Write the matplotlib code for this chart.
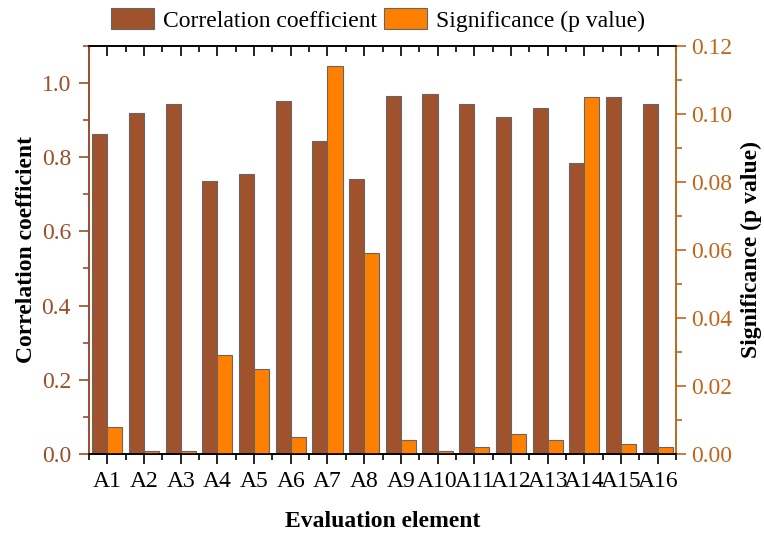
import matplotlib
matplotlib.use("Agg")
import matplotlib.pyplot as plt
import numpy as np
from matplotlib.ticker import MultipleLocator, FixedLocator, FormatStrFormatter

plt.rcParams['font.family'] = ['Liberation Serif', 'DejaVu Serif']

categories = ['A1', 'A2', 'A3', 'A4', 'A5', 'A6', 'A7', 'A8',
              'A9', 'A10', 'A11', 'A12', 'A13', 'A14', 'A15', 'A16']
correlation = [0.862, 0.919, 0.943, 0.736, 0.755, 0.950, 0.844, 0.740,
               0.965, 0.971, 0.944, 0.907, 0.932, 0.784, 0.963, 0.943]
p_values = [0.0079, 0.001, 0.001, 0.029, 0.0249, 0.0049, 0.114, 0.059,
            0.0041, 0.001, 0.002, 0.0059, 0.0041, 0.105, 0.0029, 0.002]

brown = '#A0522D'
orange = '#FF8000'
left_col = '#9A4E2C'
right_col = '#C0661C'
edge = '#666666'

fig = plt.figure(figsize=(7.64, 5.36), dpi=100)
ax = fig.add_axes([89/764, 1-454/536, (676-89)/764, (454-45.7)/536])
ax2 = ax.twinx()

x = np.arange(len(categories))
w = 0.41
b1 = ax.bar(x - w/2, correlation, width=w, color=brown, edgecolor=edge, linewidth=0.8)
b2 = ax2.bar(x + w/2, p_values, width=w, color=orange, edgecolor=edge, linewidth=0.8)

ax.set_xlim(-0.5, 15.5)
ax.set_ylim(0, 1.1)
ax2.set_ylim(0, 0.12)

ax.set_xticks(x)
ax.set_xticklabels(categories)
ax.xaxis.set_minor_locator(FixedLocator(np.arange(-0.5, 16, 1.0)))
ax.yaxis.set_major_locator(MultipleLocator(0.2))
ax.yaxis.set_minor_locator(MultipleLocator(0.1))
ax2.yaxis.set_major_locator(MultipleLocator(0.02))
ax2.yaxis.set_minor_locator(MultipleLocator(0.01))
ax.yaxis.set_major_formatter(FormatStrFormatter('%.1f'))
ax2.yaxis.set_major_formatter(FormatStrFormatter('%.2f'))

fs = 17
ax.tick_params(axis='x', which='major', direction='out', length=7, width=1.2,
               labelsize=fs, top=True, pad=5)
ax.tick_params(axis='x', which='minor', direction='out', length=4, width=1.2, top=True)
ax.tick_params(axis='y', which='major', direction='out', length=7, width=1.2,
               labelsize=fs, colors=left_col, pad=6)
ax.tick_params(axis='y', which='minor', direction='out', length=4, width=1.2, colors=left_col)
ax2.tick_params(axis='y', which='major', direction='out', length=7, width=1.2,
                labelsize=fs, colors=right_col, pad=4)
ax2.tick_params(axis='y', which='minor', direction='out', length=4, width=1.2, colors=right_col)

# top ticks point inward
for t in ax.xaxis.get_major_ticks() + ax.xaxis.get_minor_ticks():
    t.tick2line.set_marker(3)

for a in (ax, ax2):
    for s in ['top', 'bottom']:
        a.spines[s].set_linewidth(1.2)
        a.spines[s].set_color('black')
    a.spines['left'].set_color(left_col)
    a.spines['left'].set_linewidth(1.2)
    a.spines['right'].set_color(right_col)
    a.spines['right'].set_linewidth(1.2)

ax.set_ylabel('Correlation coefficient', fontsize=fs, fontweight='bold', color='black', labelpad=3)
ax2.set_ylabel('Significance (p value)', fontsize=fs, fontweight='bold', color='black', labelpad=6)
ax.set_xlabel('Evaluation element', fontsize=fs, fontweight='bold', labelpad=14)

fig.legend([b1, b2], ['Correlation coefficient', 'Significance (p value)'],
           loc='center', bbox_to_anchor=(0.495, 1-20/536), ncol=2, frameon=False,
           fontsize=fs, handlelength=1.8, handleheight=0.95, columnspacing=0.3,
           handletextpad=0.4)

fig.savefig('out.png', dpi=100)
